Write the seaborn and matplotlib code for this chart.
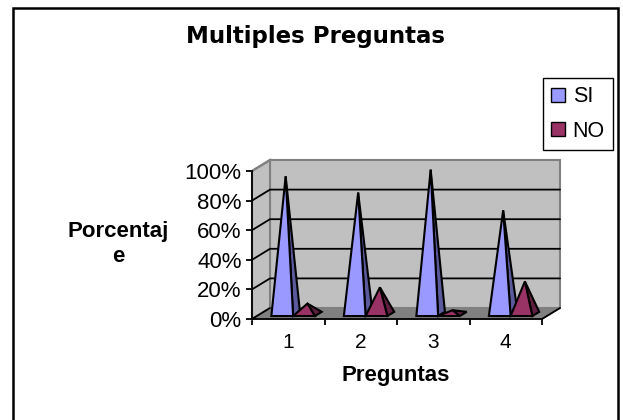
# Multiples Preguntas: 3D-look pyramid chart, positions taken from seaborn bars
import pandas as pd
import numpy as np
import matplotlib
matplotlib.use("Agg")
import matplotlib.pyplot as plt
from matplotlib.patches import Polygon, Patch, Rectangle
import seaborn as sns

preguntas = ["1", "2", "3", "4"]
si_values = [93, 82, 97.5, 70]
no_values = [7, 18, 2.5, 22]
y_ticks = [0, 20, 40, 60, 80, 100]
y_tick_labels = ["0%", "20%", "40%", "60%", "80%", "100%"]

SI_COLOR = "#9999FF"
SI_SIDE = "#5A5A9C"
NO_COLOR = "#993366"
NO_SIDE = "#5E1F40"

sns.set_theme(style="white")
plt.rcParams["font.family"] = ["Liberation Sans", "DejaVu Sans"]

df = pd.DataFrame({
    "pregunta": preguntas * 2,
    "valor": si_values + no_values,
    "serie": ["SI"] * 4 + ["NO"] * 4,
})

W, H = 623, 420
fig = plt.figure(figsize=(W / 100, H / 100), dpi=100, facecolor="white")
ax = fig.add_axes([252 / W, (H - 319) / H, 290 / W, 148 / H])

sns.barplot(data=df, x="pregunta", y="valor", hue="serie", hue_order=["SI", "NO"],
            width=0.6, gap=0, legend=False, ax=ax)
ax.set_xlim(-0.5, 3.5)
ax.set_ylim(0, 100)
ax.patch.set_visible(False)

# depth of the fake 3D box, in data units
dx = 18 / 290 * 4
dy = 11 / 148 * 100


def depth(x, y, d):
    return (x + dx * d, y + dy * d)


def poly(points, face, edge="black", lw=1.5, z=2):
    ax.add_patch(Polygon(points, closed=True, facecolor=face, edgecolor=edge,
                         linewidth=lw, zorder=z, clip_on=False, joinstyle="miter"))


x0, x1 = ax.get_xlim()
# walls and floor
poly([depth(x0, 0, 1), depth(x1, 0, 1), depth(x1, 100, 1), depth(x0, 100, 1)], "#C0C0C0", "#808080", 1.5, 1)
poly([depth(x0, 0, 0), depth(x0, 0, 1), depth(x0, 100, 1), depth(x0, 100, 0)], "#C0C0C0", "#808080", 1.5, 1)
poly([depth(x0, 0, 0), depth(x1, 0, 0), depth(x1, 0, 1), depth(x0, 0, 1)], "#808080", "#808080", 1, 1)

# gridlines on the back and left walls
for t in y_ticks[1:-1]:
    ax.plot(*zip(depth(x0, t, 0), depth(x0, t, 1), depth(x1, t, 1)),
            color="black", lw=1.3, zorder=1.5, clip_on=False)
ax.plot(*zip(depth(x0, 100, 0), depth(x0, 100, 1)), color="#808080", lw=1.5, zorder=1.5, clip_on=False)
ax.plot(*zip(depth(x1, 0, 0), depth(x1, 0, 1)), color="black", lw=1.3, zorder=1.5, clip_on=False)
ax.plot(*zip(depth(x0, 0, 0), depth(x0, 0, 1)), color="black", lw=1.3, zorder=1.5, clip_on=False)

# pyramids from the seaborn bar geometry
front_d, back_d = 0.27, 0.65
styles = [(SI_COLOR, SI_SIDE), (NO_COLOR, NO_SIDE)]
for container, (face, side) in zip(ax.containers, styles):
    for bar in container:
        left, w, h = bar.get_x(), bar.get_width(), bar.get_height()
        bar.set_visible(False)
        fl = depth(left, 0, front_d)
        fr = depth(left + w, 0, front_d)
        br = depth(left + w, 0, back_d)
        apex = depth(left + w / 2, h, (front_d + back_d) / 2)
        poly([fr, br, apex], side, z=3)
        poly([fl, fr, apex], face, z=3)

# axes lines and ticks
for s in ["top", "right"]:
    ax.spines[s].set_visible(False)
for s in ["left", "bottom"]:
    ax.spines[s].set_color("black")
    ax.spines[s].set_linewidth(1.3)
    ax.spines[s].set_zorder(4)
ax.set_yticks(y_ticks)
ax.set_yticklabels(y_tick_labels, fontsize=16, color="black")
ax.set_xticks(range(4))
ax.set_xticklabels(preguntas, fontsize=15, color="black")
ax.set_xticks(np.arange(-0.5, 4), minor=True)
ax.tick_params(axis="x", which="major", length=0, pad=10)
ax.tick_params(axis="x", which="minor", length=4, width=1.3, color="black", bottom=True)
ax.tick_params(axis="y", length=4, width=1.3, color="black", left=True, pad=3.5)
ax.set_xlabel("")
ax.set_ylabel("")

fig.text(118 / W, 1 - 244 / H, "Porcentaj\ne", ha="center", va="center", fontsize=16,
         fontweight="bold", color="black", linespacing=1.27)
fig.text(396 / W, 1 - 376 / H, "Preguntas", ha="center", va="center", fontsize=16,
         fontweight="bold", color="black")
fig.text(316 / W, 1 - 36 / H, "Multiples Preguntas", ha="center", va="center", fontsize=16.5,
         fontweight="bold", color="black", family=["DejaVu Sans"])

handles = [Patch(facecolor=SI_COLOR, edgecolor="black", label="SI"),
           Patch(facecolor=NO_COLOR, edgecolor="black", label="NO")]
leg = fig.legend(handles=handles, loc="upper left", bbox_to_anchor=(543 / W, 1 - 78 / H),
                 borderaxespad=0, fancybox=False, framealpha=1, edgecolor="black",
                 fontsize=15.5, handlelength=0.62, handleheight=0.62, handletextpad=0.38,
                 labelspacing=0.62, borderpad=0.38, labelcolor="black")
leg.get_frame().set_linewidth(1.0)

# outer chart frame, its bottom edge runs off the picture
fig.add_artist(Rectangle((13 / W, -10 / H), 605 / W, (412 + 10 - 0) / H, transform=fig.transFigure,
                         fill=False, edgecolor="black", linewidth=1.8))

fig.savefig("out.png", dpi=100)
